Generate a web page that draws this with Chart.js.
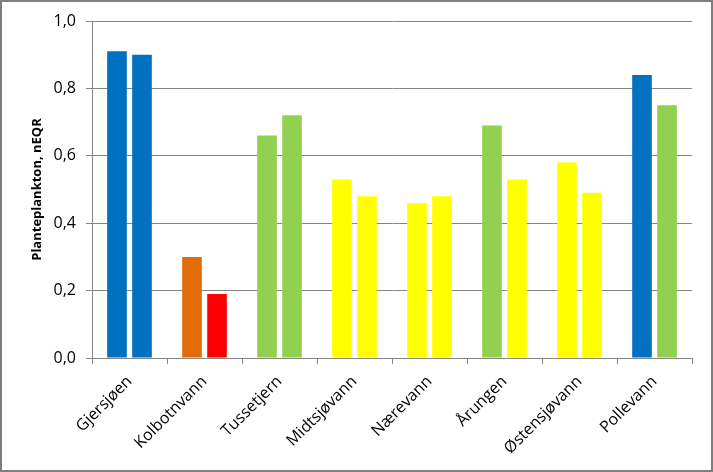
<!DOCTYPE html>
<html>
<head>
<meta charset="utf-8">
<script src="https://cdn.jsdelivr.net/npm/chart.js@4/dist/chart.umd.min.js"></script>
<style>
  html, body { margin: 0; padding: 0; background: #fff; }
  #wrap { width: 713px; height: 472px; position: relative; }
</style>
</head>
<body>
<div id="wrap"><canvas id="chart" width="713" height="472"></canvas></div>
<script>
// innsjøer og nEQR for planteplankton
var lakes = ['Gjersjøen', 'Kolbotnvann', 'Tussetjern', 'Midtsjøvann', 'Nærevann', 'Årungen', 'Østensjøvann', 'Pollevann'];
var first = [0.91, 0.30, 0.66, 0.53, 0.46, 0.69, 0.58, 0.84];
var second = [0.90, 0.19, 0.72, 0.48, 0.48, 0.53, 0.49, 0.75];
var firstColors = ['#0070C0', '#E36C09', '#92D050', '#FFFF00', '#FFFF00', '#92D050', '#FFFF00', '#0070C0'];
var secondColors = ['#0070C0', '#FF0000', '#92D050', '#FFFF00', '#FFFF00', '#FFFF00', '#FFFF00', '#92D050'];
var yTicks = [0, 0.2, 0.4, 0.6, 0.8, 1.0];

var font = "'Open Sans', 'Liberation Sans', sans-serif";

var frame = {
   id: 'frame',
   afterDraw: function(chart) {
      var ctx = chart.ctx;
      ctx.save();
      ctx.strokeStyle = '#7f7f7f';
      ctx.lineWidth = 2;
      ctx.strokeRect(1, 1, chart.width - 2, chart.height - 2);
      ctx.restore();
   }
};

new Chart(document.getElementById('chart'), {
   type: 'bar',
   data: {
      labels: lakes,
      datasets: [{
         data: first,
         backgroundColor: firstColors,
         categoryPercentage: 0.667,
         barPercentage: 0.785
      }, {
         data: second,
         backgroundColor: secondColors,
         categoryPercentage: 0.667,
         barPercentage: 0.785
      }]
   },
   options: {
      responsive: false,
      animation: false,
      layout: { padding: { left: 25, right: 21, top: 21, bottom: 0 } },
      plugins: {
         legend: { display: false },
         tooltip: { enabled: false }
      },
      scales: {
         x: {
            afterFit: function(scale) { scale.height = 114; },
            grid: {
               offset: true,
               drawOnChartArea: false,
               drawTicks: true,
               tickLength: 6,
               color: '#868686'
            },
            border: { color: '#868686', width: 1 },
            ticks: {
               maxRotation: 45,
               minRotation: 45,
               autoSkip: false,
               padding: 8,
               color: '#000',
               font: { family: font, size: 16 }
            }
         },
         y: {
            min: 0,
            max: 1,
            afterFit: function(scale) { scale.width = 67; },
            afterBuildTicks: function(scale) {
               scale.ticks = yTicks.map(function(v) { return { value: v }; });
            },
            grid: { color: '#868686', tickLength: 6, lineWidth: 1 },
            border: { color: '#868686', width: 1 },
            ticks: {
               padding: 10,
               color: '#000',
               font: { family: font, size: 16 },
               callback: function(v) { return v.toFixed(1).replace('.', ','); }
            },
            title: {
               display: true,
               text: 'Planteplankton, nEQR',
               color: '#000',
               padding: 4,
               font: { family: font, size: 13, weight: 'bold' }
            }
         }
      }
   },
   plugins: [frame]
});
</script>
</body>
</html>
